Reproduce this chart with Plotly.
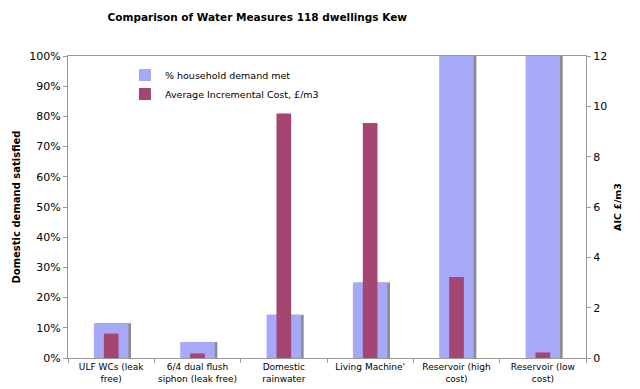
import plotly.graph_objects as go

categories = ["ULF WCs (leak<br>free)", "6/4 dual flush<br>siphon (leak free)", "Domestic<br>rainwater",
              "Living Machine'", "Reservoir (high<br>cost)", "Reservoir (low<br>cost)"]
demand_met = [0.115, 0.053, 0.143, 0.25, 1.0, 1.0]
aic = [0.97, 0.18, 9.72, 9.34, 3.22, 0.22]
left_ticks = [0, 0.1, 0.2, 0.3, 0.4, 0.5, 0.6, 0.7, 0.8, 0.9, 1.0]
right_ticks = [0, 2, 4, 6, 8, 10, 12]

FONT = "DejaVu Sans"
fig = go.Figure()
# shadow of the blue bars
fig.add_trace(go.Bar(x=categories, y=demand_met, width=0.4, offset=-0.17,
                     marker=dict(color="#8c8c8c", line=dict(width=0)),
                     showlegend=False, hoverinfo="skip", yaxis="y"))
fig.add_trace(go.Bar(x=categories, y=demand_met, width=0.4, offset=-0.2,
                     marker=dict(color="#a6a8f8", line=dict(width=0)),
                     name="% household demand met", yaxis="y"))
fig.add_trace(go.Bar(x=categories, y=aic, width=0.17, offset=-0.085,
                     marker=dict(color="#a54672", line=dict(width=0)),
                     name="Average Incremental Cost, £/m3", yaxis="y2"))

fig.update_layout(
    width=640, height=389,
    margin=dict(l=68, r=54, t=56, b=31, autoexpand=False),
    paper_bgcolor="white", plot_bgcolor="white",
    barmode="overlay",
    font=dict(family=FONT, size=11, color="black"),
    title=dict(text="<b>Comparison of Water Measures 118 dwellings Kew</b>",
               x=0.402, xanchor="center", y=0.955, yanchor="middle",
               font=dict(family=FONT, size=10.5, color="black")),
    legend=dict(x=0.11, y=0.985, xanchor="left", yanchor="top",
                bgcolor="rgba(0,0,0,0)", font=dict(size=9.5),
                traceorder="normal", itemwidth=30, tracegroupgap=0),
    xaxis=dict(type="category", showline=True, linecolor="#999999", linewidth=1, mirror=True,
               ticks="outside", tickson="boundaries", ticklen=4, tickcolor="#999999",
               tickangle=0, tickfont=dict(size=9), showgrid=False, range=[-0.5, 5.5],
               automargin=False),
    yaxis=dict(range=[0, 1.0], tickvals=left_ticks, tickformat=".0%",
               showline=True, linecolor="#999999", linewidth=1, ticks="outside",
               ticklen=4, tickcolor="#999999", showgrid=False, zeroline=False, automargin=False,
               title=dict(text="<b>Domestic demand satisfied</b>", font=dict(size=10), standoff=6)),
    yaxis2=dict(range=[0, 12], tickvals=right_ticks, overlaying="y", side="right",
                showline=True, linecolor="#999999", linewidth=1, ticks="outside",
                ticklen=4, tickcolor="#999999", showgrid=False, zeroline=False, automargin=False,
                title=dict(text="<b>AIC £/m3</b>", font=dict(size=9.5), standoff=8)),
)
fig.write_html("out.html")
